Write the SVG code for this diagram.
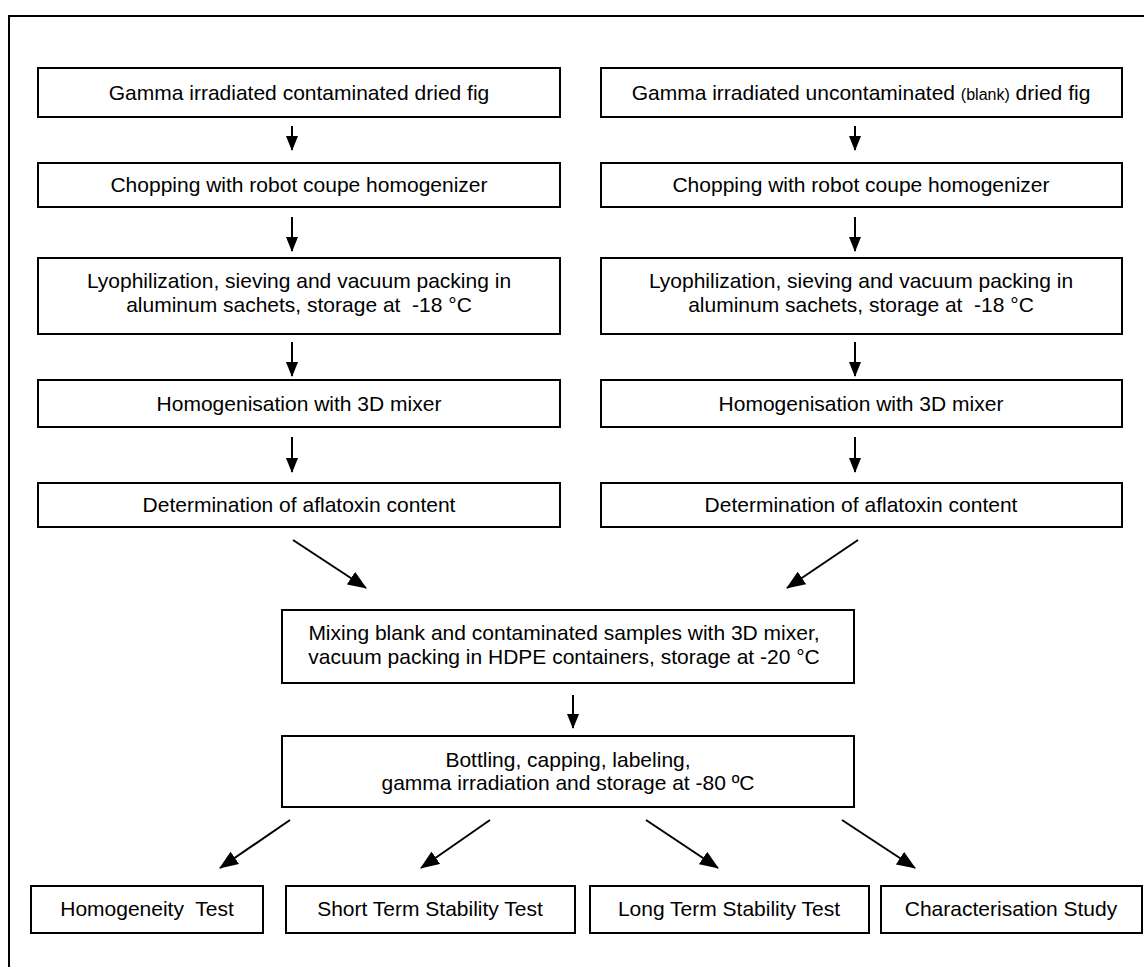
<svg xmlns="http://www.w3.org/2000/svg" width="1144" height="967" viewBox="0 0 1144 967">
<style>
.box{fill:#fff;stroke:#000;stroke-width:2}
.t{font-family:"Liberation Sans",Arial,sans-serif;font-size:21px;fill:#000;text-anchor:middle}
.s{font-size:16px}
.c{stroke:#000;stroke-width:2;fill:none}
.v{marker-end:url(#hv)}
.d{marker-end:url(#hd)}
</style>
<defs>
<marker id="hv" markerUnits="userSpaceOnUse" viewBox="0 0 15 12" refX="14" refY="6" markerWidth="15" markerHeight="12" orient="auto"><path d="M0,0 L15,6 L0,12 z" fill="#000"/></marker>
<marker id="hd" markerUnits="userSpaceOnUse" viewBox="0 0 19 15" refX="18" refY="7.5" markerWidth="19" markerHeight="15" orient="auto"><path d="M0,0 L19,7.5 L0,15 z" fill="#000"/></marker>
</defs>
<rect x="0" y="0" width="1144" height="967" fill="#fff"/>
<rect x="9" y="16" width="1140" height="965" fill="none" stroke="#000" stroke-width="2"/>

<g id="connectors">
<line class="c v" x1="292" y1="126" x2="292" y2="150"/>
<line class="c v" x1="292" y1="217" x2="292" y2="251"/>
<line class="c v" x1="292" y1="342" x2="292" y2="376"/>
<line class="c v" x1="292" y1="437" x2="292" y2="472"/>
<line class="c v" x1="855" y1="126" x2="855" y2="150"/>
<line class="c v" x1="855" y1="217" x2="855" y2="251"/>
<line class="c v" x1="855" y1="342" x2="855" y2="376"/>
<line class="c v" x1="855" y1="437" x2="855" y2="472"/>
<line class="c d" x1="293" y1="540" x2="366" y2="588"/>
<line class="c d" x1="858" y1="540" x2="787" y2="588"/>
<line class="c v" x1="573" y1="695" x2="573" y2="728"/>
<line class="c d" x1="290" y1="820" x2="220" y2="868"/>
<line class="c d" x1="490" y1="820" x2="421" y2="868"/>
<line class="c d" x1="646" y1="820" x2="718" y2="868"/>
<line class="c d" x1="842" y1="820" x2="915" y2="868"/>
</g>

<g id="n_l1"><rect class="box" x="38" y="68" width="522" height="49"/><text class="t" x="299" y="100">Gamma irradiated contaminated dried fig</text></g>
<g id="n_r1"><rect class="box" x="601" y="68" width="521" height="49"/><text class="t" x="861" y="100">Gamma irradiated uncontaminated <tspan class="s">(blank)</tspan> dried fig</text></g>

<g id="n_l2"><rect class="box" x="38" y="163" width="522" height="44"/><text class="t" x="299" y="192">Chopping with robot coupe homogenizer</text></g>
<g id="n_r2"><rect class="box" x="601" y="163" width="521" height="44"/><text class="t" x="861" y="192">Chopping with robot coupe homogenizer</text></g>

<g id="n_l3"><rect class="box" x="38" y="258" width="522" height="76"/><text class="t" x="299" y="288">Lyophilization, sieving and vacuum packing in</text><text class="t" x="299" y="312" xml:space="preserve">aluminum sachets, storage at  -18 °C</text></g>
<g id="n_r3"><rect class="box" x="601" y="258" width="521" height="76"/><text class="t" x="861" y="288">Lyophilization, sieving and vacuum packing in</text><text class="t" x="861" y="312" xml:space="preserve">aluminum sachets, storage at  -18 °C</text></g>

<g id="n_l4"><rect class="box" x="38" y="380" width="522" height="47"/><text class="t" x="299" y="411">Homogenisation with 3D mixer</text></g>
<g id="n_r4"><rect class="box" x="601" y="380" width="521" height="47"/><text class="t" x="861" y="411">Homogenisation with 3D mixer</text></g>

<g id="n_l5"><rect class="box" x="38" y="483" width="522" height="44"/><text class="t" x="299" y="512">Determination of aflatoxin content</text></g>
<g id="n_r5"><rect class="box" x="601" y="483" width="521" height="44"/><text class="t" x="861" y="512">Determination of aflatoxin content</text></g>

<g id="n_mix"><rect class="box" x="282" y="610" width="572" height="73"/><text class="t" x="564" y="640">Mixing blank and contaminated samples with 3D mixer,</text><text class="t" x="564" y="664">vacuum packing in HDPE containers, storage at -20 °C</text></g>

<g id="n_bottle"><rect class="box" x="282" y="736" width="572" height="71"/><text class="t" x="568" y="767">Bottling, capping, labeling,</text><text class="t" x="568" y="790">gamma irradiation and storage at -80 ºC</text></g>

<g id="n_homog"><rect class="box" x="31" y="886" width="232" height="47"/><text class="t" x="147" y="916" xml:space="preserve">Homogeneity  Test</text></g>
<g id="n_short"><rect class="box" x="286" y="886" width="289" height="47"/><text class="t" x="430" y="916">Short Term Stability Test</text></g>
<g id="n_long"><rect class="box" x="590" y="886" width="279" height="47"/><text class="t" x="729" y="916">Long Term Stability Test</text></g>
<g id="n_char"><rect class="box" x="881" y="886" width="261" height="47"/><text class="t" x="1011" y="916">Characterisation Study</text></g>
</svg>
